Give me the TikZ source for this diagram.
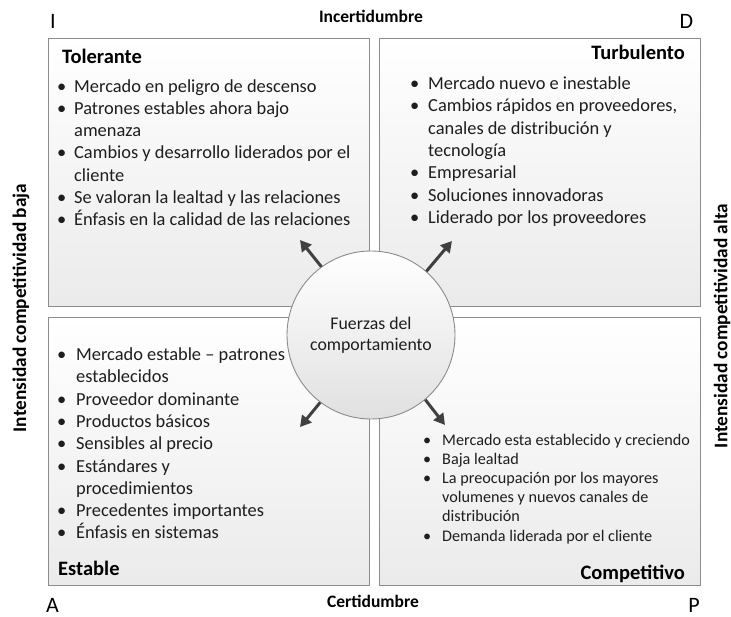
\documentclass[tikz,border=0pt]{standalone}
\usepackage{fontspec}
\setmainfont{Carlito}
\usetikzlibrary{arrows.meta}

\definecolor{edgegray}{HTML}{8C8C8C}
\definecolor{arrowgray}{HTML}{404040}
\definecolor{inkgray}{HTML}{1E1E1E}

% bullet set in a fixed-width slot
\newcommand\bul[1][17pt]{\makebox[#1][l]{\textbullet}}
\newcommand\bodylarge{\fontsize{18.4}{22.3}\selectfont}
\newcommand\bodysmall{\fontsize{16.2}{19.2}\selectfont}

\tikzset{
  quad/.style={draw=edgegray, line width=0.9pt, top color=white, bottom color=black!8,
    minimum width=321pt, minimum height=268pt, inner sep=0pt, anchor=north west},
  hub/.style={circle, draw=edgegray, line width=0.9pt, top color=white, bottom color=black!12,
    minimum size=168pt, inner sep=0pt, align=center, text=inkgray,
    font=\fontsize{17.8}{21}\selectfont},
  force/.style={draw=arrowgray, line width=3pt, -{Triangle[length=11pt, width=12pt]}},
  items/.style={anchor=base west, inner sep=0pt, text=inkgray},
  title/.style={font=\fontsize{20.5}{24}\selectfont\bfseries, inner sep=0pt, text=black},
  axis/.style={font=\fontsize{17.5}{20}\selectfont\bfseries, inner sep=0pt, text=black},
  sideaxis/.style={font=\fontsize{19.3}{22}\selectfont\bfseries, inner sep=0pt, text=black, rotate=90},
  corner/.style={font=\fontsize{22}{24}\selectfont, inner sep=0pt, text=black},
}

\begin{document}
\begin{tikzpicture}[x=1pt, y=1pt]
\useasboundingbox (0,0) rectangle (731,-616);

% the four quadrants
\node[quad] (tl) at (48,-38) {};
\node[quad] (tr) at (379,-38) {};
\node[quad] (bl) at (48,-317) {};
\node[quad] (br) at (379,-317) {};

% quadrant titles
\node[title, anchor=base west] (tlTitle) at (62,-63) {Tolerante};
\node[title, anchor=base east] (trTitle) at (685,-59) {Turbulento};
\node[title, anchor=base west] (blTitle) at (58,-575) {Estable};
\node[title, anchor=base east] (brTitle) at (685,-579) {Competitivo};

% quadrant contents
\node[items] (tlList) at (57,-92) {\bodylarge\begin{tabular}[t]{@{}l@{}l@{}}
\bul & Mercado en peligro de descenso\\
\bul & Patrones estables ahora bajo\\
     & amenaza\\
\bul & Cambios y desarrollo liderados por el\\
     & cliente\\
\bul & Se valoran la lealtad y las relaciones\\
\bul & Énfasis en la calidad de las relaciones
\end{tabular}};

\node[items] (trList) at (410,-89.5) {\bodylarge\begin{tabular}[t]{@{}l@{}l@{}}
\bul[18pt] & Mercado nuevo e inestable\\
\bul[18pt] & Cambios rápidos en proveedores,\\
           & canales de distribución y\\
           & tecnología\\
\bul[18pt] & Empresarial\\
\bul[18pt] & Soluciones innovadoras\\
\bul[18pt] & Liderado por los proveedores
\end{tabular}};

\node[items] (blList) at (57,-360.5) {\bodylarge\begin{tabular}[t]{@{}l@{}l@{}}
\bul[19pt] & Mercado estable – patrones\\
           & establecidos\\
\bul[19pt] & Proveedor dominante\\
\bul[19pt] & Productos básicos\\
\bul[19pt] & Sensibles al precio\\
\bul[19pt] & Estándares y\\
           & procedimientos\\
\bul[19pt] & Precedentes importantes\\
\bul[19pt] & Énfasis en sistemas
\end{tabular}};

\node[items] (brList) at (423,-445) {\bodysmall\begin{tabular}[t]{@{}l@{}l@{}}
\bul[19pt] & Mercado esta establecido y creciendo\\
\bul[19pt] & Baja lealtad\\
\bul[19pt] & La preocupación por los mayores\\
           & volumenes y nuevos canales de\\
           & distribución\\
\bul[19pt] & Demanda liderada por el cliente
\end{tabular}};

% central hub and its forces
\node[hub] (hub) at (371,-335) {Fuerzas del\\comportamiento};

\coordinate (tipTL) at (300,-240);
\coordinate (tipTR) at (452,-241);
\coordinate (tipBL) at (300,-427);
\coordinate (tipBR) at (445,-425);
\draw[force] (hub.126) -- (tipTL);
\draw[force] (hub.49) -- (tipTR);
\draw[force] (hub.233) -- (tipBL);
\draw[force] (hub.-50) -- (tipBR);

% axes
\node[axis, anchor=base] (uncert) at (371,-22.5) {Incertidumbre};
\node[axis, anchor=base] (cert) at (373,-607) {Certidumbre};
\node[sideaxis] (low) at (21,-308) {Intensidad competitividad baja};
\node[sideaxis] (high) at (722,-326) {Intensidad competitividad alta};

% corner letters
\node[corner, anchor=base] (cI) at (53,-28) {I};
\node[corner, anchor=base] (cD) at (686.5,-28) {D};
\node[corner, anchor=base] (cA) at (52.5,-612) {A};
\node[corner, anchor=base] (cP) at (694,-612) {P};
\end{tikzpicture}
\end{document}
